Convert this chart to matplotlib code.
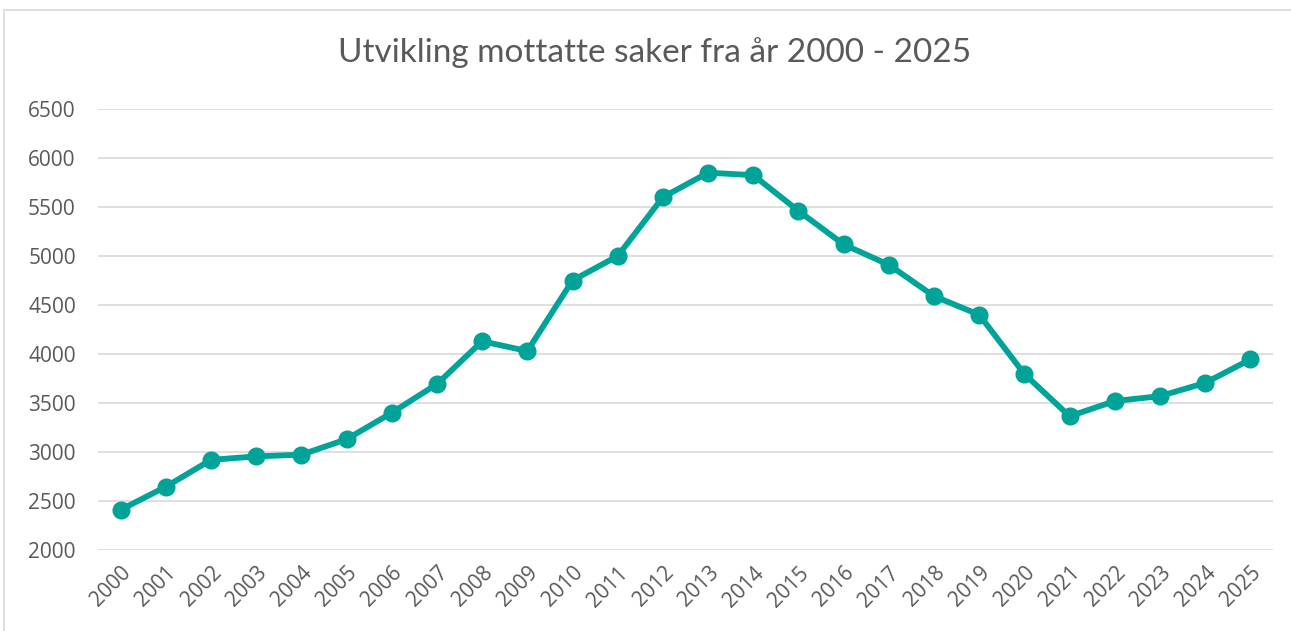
import numpy as np
import matplotlib
matplotlib.use("Agg")
import matplotlib.pyplot as plt
from matplotlib.patches import Rectangle

# data
years = [str(y) for y in range(2000, 2026)]
saker = [2410, 2645, 2920, 2955, 2973, 3130, 3400, 3693, 4130, 4030,
         4750, 5000, 5600, 5850, 5825, 5460, 5118, 4910, 4590, 4400,
         3795, 3365, 3520, 3570, 3705, 3945]
yticks = [2000, 2500, 3000, 3500, 4000, 4500, 5000, 5500, 6000, 6500]

title = "Utvikling mottatte saker fra år 2000 - 2025"
teal = "#00A398"
grey_text = "#595959"

plt.rcParams['font.family'] = ['Open Sans', 'DejaVu Sans']

fig = plt.figure(figsize=(12.91, 6.31), dpi=100)
ax = fig.add_axes([98/1291, 81/631, (1273-98)/1291, (550-109)/631])

# chart border like the excel frame
fig.patches.append(Rectangle((4/1291, -0.05), 1.1, (621/631) + 0.05,
                             transform=fig.transFigure, fill=False,
                             edgecolor="#D9D9D9", lw=1.2))

x = np.arange(len(years))
ax.plot(x, saker, color=teal, lw=4.2, marker='o', markersize=12,
        solid_joinstyle='round', zorder=3)

ax.set_xlim(-0.5, len(years) - 0.5)
ax.set_ylim(2000, 6500)
ax.set_yticks(yticks)
ax.set_xticks(x)
ax.set_xticklabels(years, rotation=45, ha='right', rotation_mode='anchor')

ax.grid(axis='y', color="#D9D9D9", lw=1.2)
ax.set_axisbelow(True)
for s in ax.spines.values():
    s.set_visible(False)
ax.tick_params(axis='both', length=0, labelsize=15, labelcolor=grey_text)
ax.tick_params(axis='y', pad=16)
ax.tick_params(axis='x', pad=9)

fig.text(655/1291, 1 - 53/631, title, ha='center', va='center',
         fontsize=24, color=grey_text, family=['Lato', 'DejaVu Sans'])

fig.savefig("out.png", dpi=100)
